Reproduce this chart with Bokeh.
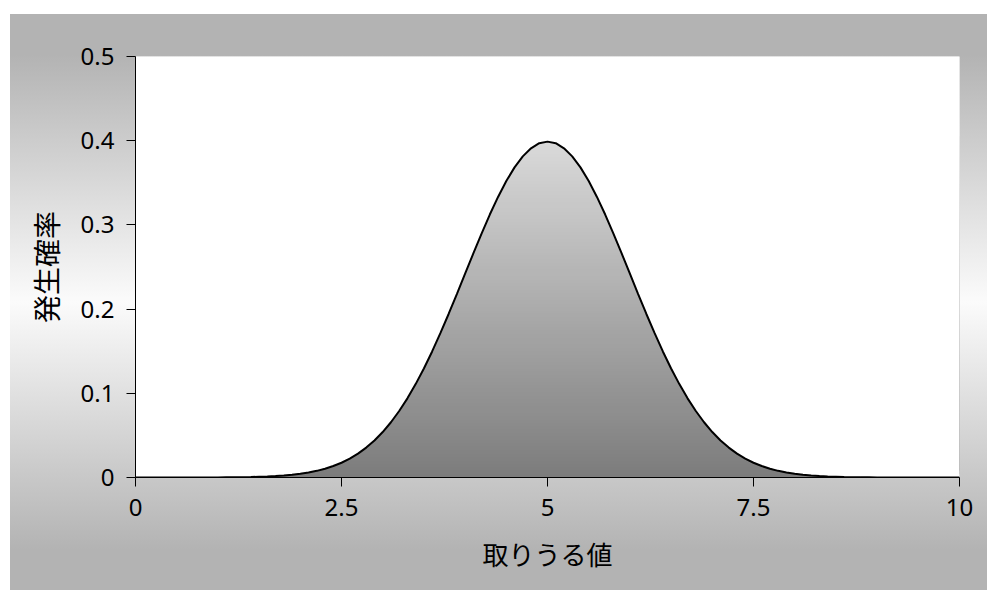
from bokeh.plotting import figure
from bokeh.models import FixedTicker, Range1d
from bokeh.embed import file_html
from bokeh.resources import INLINE

# values (x step 0.1 from 0 to 10)
x_values = [round(i * 0.1, 1) for i in range(101)]
half = [0.0000, 0.0000, 0.0000, 0.0000, 0.0000, 0.0000, 0.0000, 0.0000, 0.0000, 0.0000,
        0.0001, 0.0002, 0.0003, 0.0004, 0.0006, 0.0009, 0.0012, 0.0017, 0.0024, 0.0033,
        0.0044, 0.0060, 0.0079, 0.0104, 0.0136, 0.0175, 0.0224, 0.0283, 0.0355, 0.0440,
        0.0540, 0.0656, 0.0790, 0.0940, 0.1109, 0.1295, 0.1497, 0.1714, 0.1942, 0.2179,
        0.2420, 0.2661, 0.2897, 0.3123, 0.3332, 0.3521, 0.3683, 0.3814, 0.3910, 0.3970]
peak = [0.3989]
probability = half + peak + half[::-1]

x_ticks = [0, 2.5, 5, 7.5, 10]
x_tick_labels = ["0", "2.5", "5", "7.5", "10"]
y_ticks = [0, 0.1, 0.2, 0.3, 0.4, 0.5]
y_tick_labels = ["0", "0.1", "0.2", "0.3", "0.4", "0.5"]
x_title = "取りうる値"
y_title = "発生確率"

W, H = 977, 576
p = figure(width=W, height=H, output_backend="svg", toolbar_location=None,
           x_range=Range1d(0, 10), y_range=Range1d(0, 0.5),
           min_border_left=125, min_border_right=28, min_border_top=42, min_border_bottom=113)
p.margin = (14, 0, 0, 10)
p.border_fill_color = None
p.background_fill_color = "white"
p.outline_line_color = None
p.styles = {"background": "linear-gradient(to bottom, #b3b3b3 0%, #b3b3b3 7%, #fbfbfb 50%, #b3b3b3 93%, #b3b3b3 100%)"}
p.grid.visible = False

# vertical gradient fill under the curve (overlapping bands + white mask above the curve)
N = 100
top = 0.405
c0, c1 = 124, 219
lefts, rights, bottoms, tops, colors = [], [], [], [], []
step = top / N
for i in range(N):
    lo = step * i
    hi = min(step * (i + 3), top)
    g = int(round(c0 + (c1 - c0) * (i + 0.5) / N))
    lefts.append(x_values[0]); rights.append(x_values[-1])
    bottoms.append(lo); tops.append(hi)
    colors.append("#%02x%02x%02x" % (g, g, g))
p.quad(left=lefts, right=rights, bottom=bottoms, top=tops, fill_color=colors, line_color=None)
p.varea(x=x_values, y1=probability, y2=[0.5] * len(x_values), fill_color="white")
p.line(x_values, probability, line_color="black", line_width=2)

for ax in (p.xaxis, p.yaxis):
    ax.axis_line_color = "black"
    ax.axis_line_width = 1
    ax.major_tick_line_color = "black"
    ax.major_tick_out = 9
    ax.major_tick_in = 0
    ax.minor_tick_line_color = None
    ax.major_label_text_font = "Noto Sans"
    ax.major_label_text_font_size = "24px"
    ax.major_label_text_color = "black"
    ax.major_label_standoff = 12
    ax.axis_label_text_font = "Noto Sans CJK JP"
    ax.axis_label_text_font_style = "normal"
    ax.axis_label_text_color = "black"

p.xaxis.axis_label_text_font_size = "26px"
p.xaxis.axis_label_standoff = 16
p.yaxis.axis_label_text_font_size = "28px"
p.yaxis.axis_label_standoff = 12

p.xaxis.ticker = FixedTicker(ticks=x_ticks)
p.xaxis.major_label_overrides = dict(zip(x_ticks, x_tick_labels))
p.yaxis.ticker = FixedTicker(ticks=y_ticks)
p.yaxis.major_label_overrides = dict(zip(y_ticks, y_tick_labels))
p.xaxis.axis_label = x_title
p.yaxis.axis_label = y_title

open("out.html", "w").write(file_html(p, INLINE))
